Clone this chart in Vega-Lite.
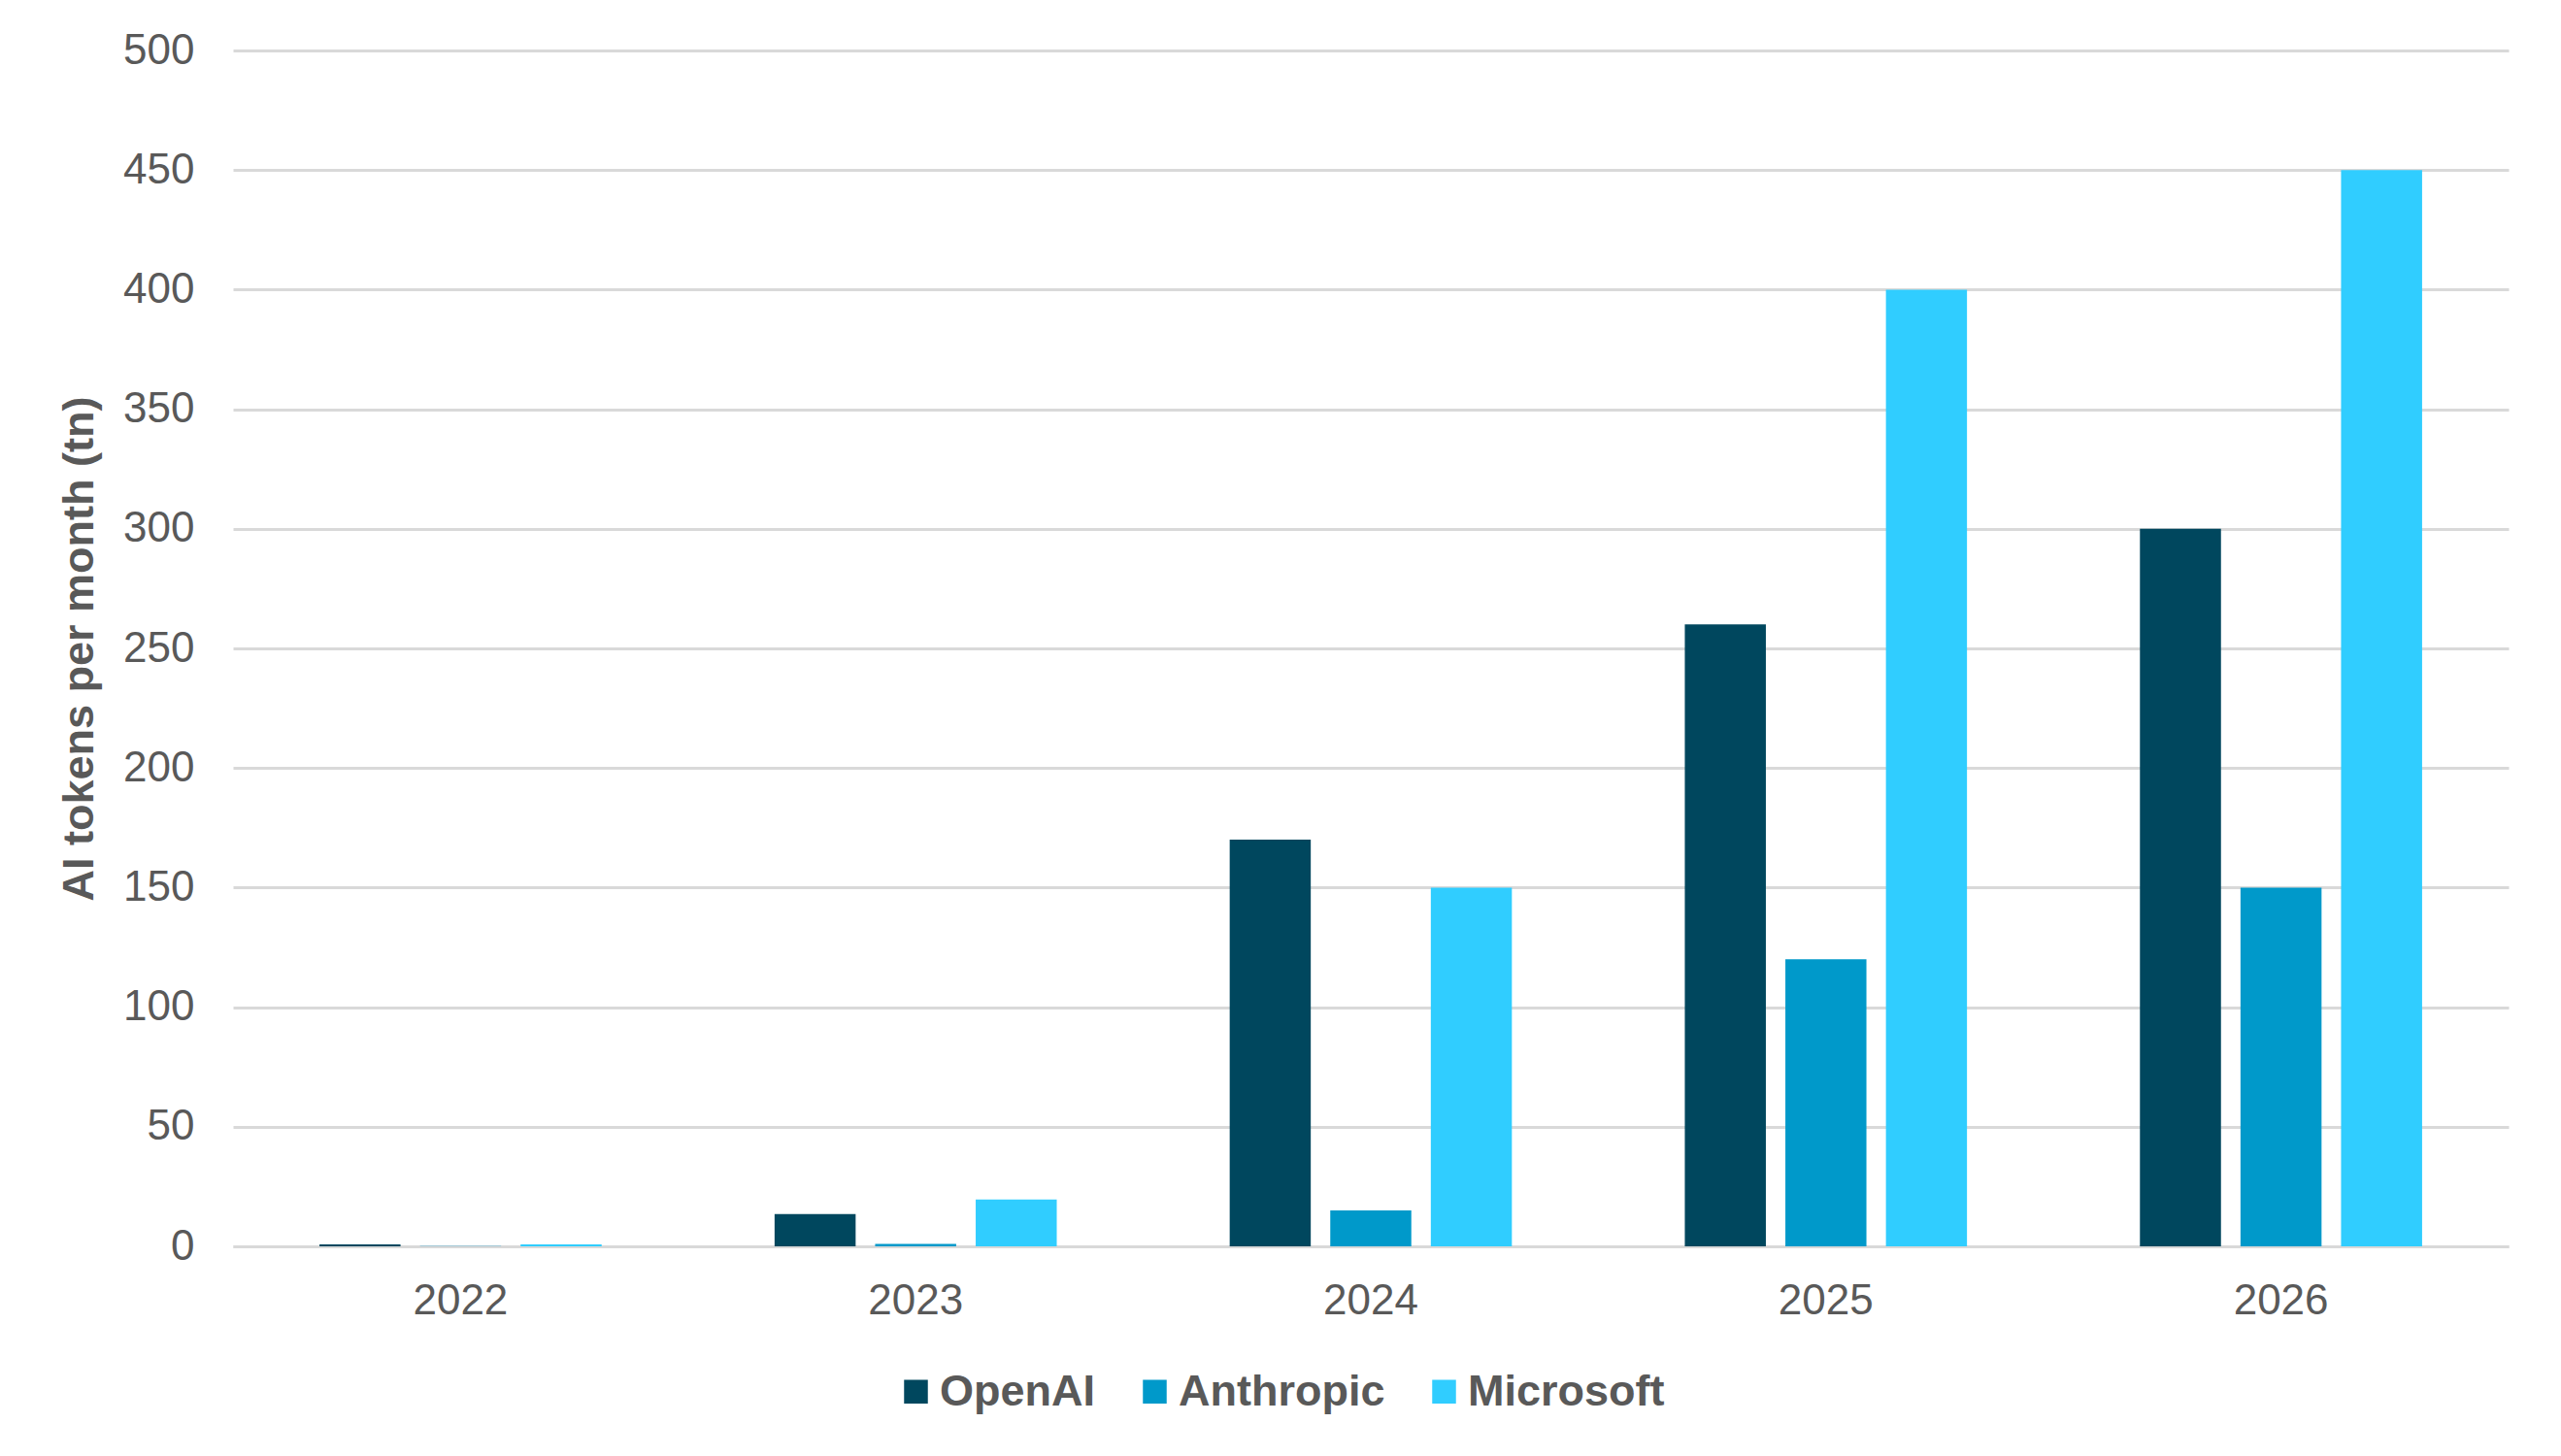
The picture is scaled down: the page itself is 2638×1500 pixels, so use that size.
{
  "$schema": "https://vega.github.io/schema/vega-lite/v6.json",
  "width": 2344,
  "height": 1232,
  "autosize": {"type": "none"},
  "padding": {"left": 240, "top": 52, "right": 54, "bottom": 216},
  "background": "white",
  "config": {
    "font": "Liberation Sans",
    "view": {"stroke": null},
    "axis": {"labelColor": "#595959", "titleColor": "#595959", "labelFont": "Liberation Sans", "titleFont": "Liberation Sans"}
  },
  "data": {
    "values": [
      {"year": "2022", "company": "OpenAI", "tokens": 0.8},
      {"year": "2022", "company": "Anthropic", "tokens": 0.1},
      {"year": "2022", "company": "Microsoft", "tokens": 0.8},
      {"year": "2023", "company": "OpenAI", "tokens": 13.5},
      {"year": "2023", "company": "Anthropic", "tokens": 1},
      {"year": "2023", "company": "Microsoft", "tokens": 19.6},
      {"year": "2024", "company": "OpenAI", "tokens": 170},
      {"year": "2024", "company": "Anthropic", "tokens": 15},
      {"year": "2024", "company": "Microsoft", "tokens": 150},
      {"year": "2025", "company": "OpenAI", "tokens": 260},
      {"year": "2025", "company": "Anthropic", "tokens": 120},
      {"year": "2025", "company": "Microsoft", "tokens": 400},
      {"year": "2026", "company": "OpenAI", "tokens": 300},
      {"year": "2026", "company": "Anthropic", "tokens": 150},
      {"year": "2026", "company": "Microsoft", "tokens": 450}
    ]
  },
  "mark": {"type": "bar"},
  "encoding": {
    "x": {
      "field": "year", "type": "nominal", "title": null,
      "scale": {"paddingInner": 0.38, "paddingOuter": 0.19},
      "axis": {"labelAngle": 0, "labelFontSize": 44, "labelPadding": 34, "ticks": false, "domainColor": "#d9d9d9", "domainWidth": 3}
    },
    "xOffset": {
      "field": "company", "type": "nominal",
      "sort": ["OpenAI", "Anthropic", "Microsoft"],
      "scale": {"paddingInner": 0.194, "paddingOuter": 0}
    },
    "y": {
      "field": "tokens", "type": "quantitative",
      "title": "AI tokens per month (tn)",
      "scale": {"domain": [0, 500], "nice": false},
      "axis": {
        "values": [0, 50, 100, 150, 200, 250, 300, 350, 400, 450, 500],
        "labelFontSize": 44, "labelPadding": 40, "ticks": false, "domain": false,
        "gridColor": "#d9d9d9", "gridWidth": 3,
        "titleFontSize": 45, "titleFontWeight": "bold", "titlePadding": 22
      }
    },
    "color": {
      "field": "company", "type": "nominal",
      "sort": ["OpenAI", "Anthropic", "Microsoft"],
      "scale": {"domain": ["OpenAI", "Anthropic", "Microsoft"], "range": ["#00475E", "#0099CA", "#30CDFF"]},
      "legend": {
        "title": null, "orient": "none", "direction": "horizontal",
        "legendX": 681, "legendY": 1359, "padding": 0,
        "labelFontSize": 45, "labelFontWeight": "bold", "labelColor": "#595959", "labelLimit": 1000,
        "symbolType": "square", "symbolSize": 600, "symbolStrokeWidth": 0,
        "labelOffset": 2, "columnPadding": 38
      }
    }
  }
}
